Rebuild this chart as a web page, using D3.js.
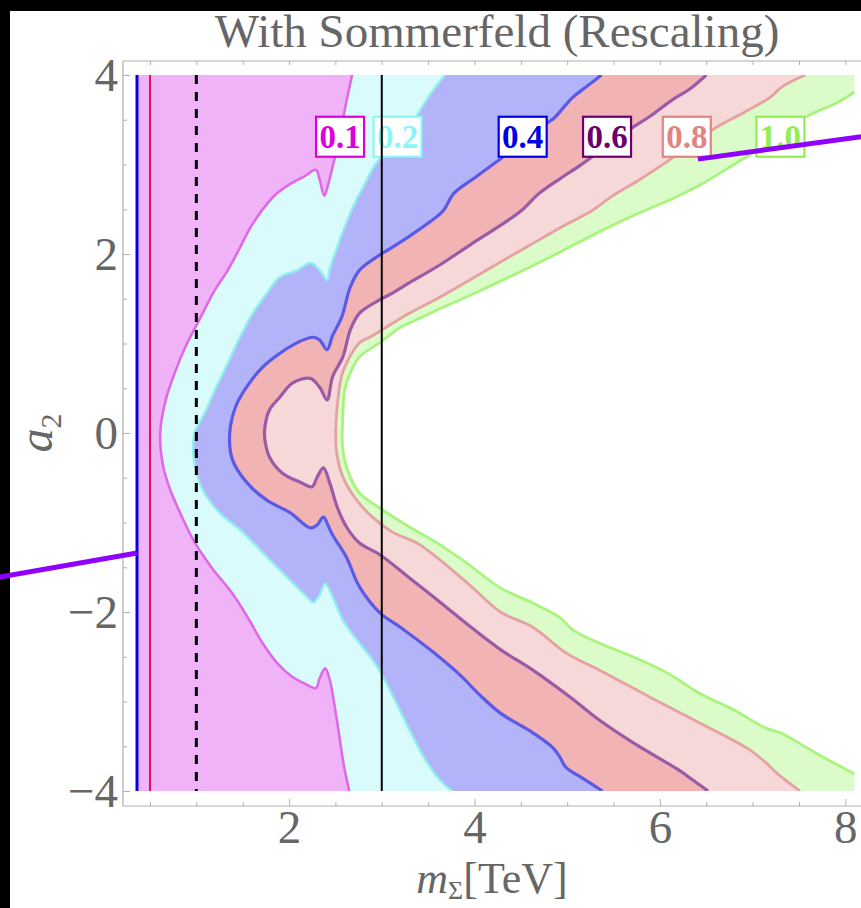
<!DOCTYPE html>
<html><head><meta charset="utf-8">
<script src="https://cdn.jsdelivr.net/npm/d3@7"></script>
<style>html,body{margin:0;padding:0;background:#fff;} svg{display:block;}</style>
</head><body>
<svg id="chart" width="861" height="908"></svg>
<script>
// Plot ranges (TeV, dimensionless coupling)
const massRange = [0.36, 8.1];
const a2Range = [-4, 4];

// Contour levels of the ratio shown in the plot
const levels = ["0.1", "0.2", "0.4", "0.6", "0.8", "1.0"];

// Contour curves [m_Sigma (TeV), a2], traced from a2 = 4 down to a2 = -4
const contour01 = [[2.68,4.00],[2.61,3.66],[2.54,3.27],[2.48,3.02],[2.42,2.77],[2.38,2.65],[2.33,2.83],[2.29,2.94],[2.17,2.87],[2.01,2.78],[1.85,2.66],[1.71,2.49],[1.58,2.29],[1.47,2.07],[1.34,1.82],[1.19,1.58],[1.04,1.28],[0.89,0.98],[0.77,0.68],[0.67,0.37],[0.61,0],[0.64,-0.36],[0.72,-0.64],[0.82,-0.88],[0.97,-1.20],[1.17,-1.51],[1.38,-1.78],[1.56,-2.07],[1.71,-2.34],[1.88,-2.58],[2.03,-2.72],[2.17,-2.80],[2.29,-2.85],[2.33,-2.74],[2.39,-2.63],[2.44,-2.76],[2.49,-3.04],[2.54,-3.37],[2.59,-3.71],[2.65,-4.00]];
const contour02 = [[3.68,4.00],[3.52,3.78],[3.36,3.52],[3.20,3.30],[3.07,3.15],[2.95,3.03],[2.80,2.75],[2.69,2.53],[2.58,2.25],[2.49,1.99],[2.44,1.84],[2.41,1.71],[2.33,1.82],[2.23,1.90],[2.09,1.82],[1.90,1.74],[1.76,1.56],[1.61,1.34],[1.47,1.07],[1.33,0.76],[1.20,0.48],[1.09,0.22],[0.98,0],[0.98,-0.34],[1.07,-0.64],[1.25,-0.89],[1.47,-1.08],[1.72,-1.34],[1.98,-1.61],[2.19,-1.83],[2.26,-1.89],[2.33,-1.81],[2.39,-1.68],[2.47,-1.83],[2.58,-2.09],[2.76,-2.35],[2.95,-2.61],[3.14,-2.98],[3.30,-3.32],[3.47,-3.65],[3.63,-3.88],[3.76,-4.00]];
const contour04 = [[5.37,4.00],[5.22,3.88],[5.06,3.75],[4.98,3.66],[4.86,3.52],[4.78,3.46],[4.51,3.24],[4.25,3.04],[4.00,2.85],[3.78,2.68],[3.66,2.48],[3.52,2.36],[3.30,2.20],[3.09,2.06],[2.98,1.99],[2.76,1.82],[2.66,1.63],[2.57,1.30],[2.47,1.09],[2.41,0.93],[2.33,1.04],[2.26,1.07],[2.09,1.01],[1.90,0.89],[1.71,0.73],[1.56,0.54],[1.43,0.31],[1.36,0],[1.39,-0.30],[1.55,-0.56],[1.76,-0.75],[2.01,-0.89],[2.23,-1.06],[2.30,-1.03],[2.37,-0.94],[2.42,-1.03],[2.47,-1.14],[2.62,-1.39],[2.76,-1.72],[2.98,-2.01],[3.20,-2.17],[3.52,-2.42],[3.84,-2.70],[4.06,-2.93],[4.28,-3.13],[4.63,-3.35],[4.85,-3.52],[4.92,-3.62],[4.99,-3.74],[5.14,-3.84],[5.38,-4.00]];
const contour06 = [[6.50,4.00],[6.33,3.85],[6.13,3.72],[5.91,3.55],[5.70,3.41],[5.42,3.20],[5.14,2.99],[4.92,2.84],[4.70,2.68],[4.50,2.48],[4.28,2.32],[3.95,2.10],[3.63,1.88],[3.30,1.68],[3.09,1.55],[2.98,1.49],[2.76,1.34],[2.66,1.15],[2.58,0.85],[2.47,0.63],[2.41,0.37],[2.33,0.51],[2.23,0.61],[2.04,0.56],[1.90,0.40],[1.79,0.26],[1.74,0.07],[1.74,-0.08],[1.79,-0.27],[1.93,-0.45],[2.12,-0.55],[2.25,-0.60],[2.30,-0.50],[2.37,-0.39],[2.44,-0.56],[2.52,-0.83],[2.62,-1.05],[2.76,-1.23],[2.98,-1.36],[3.30,-1.62],[3.63,-1.89],[3.95,-2.16],[4.28,-2.42],[4.63,-2.65],[5.03,-2.95],[5.35,-3.21],[5.71,-3.46],[6.21,-3.77],[6.36,-3.88],[6.52,-4.00]];
const contour08 = [[7.57,4.00],[7.32,3.87],[7.19,3.75],[6.92,3.59],[6.57,3.39],[6.33,3.21],[6.06,3.02],[5.78,2.83],[5.49,2.65],[5.26,2.48],[4.92,2.29],[4.60,2.10],[4.28,1.91],[3.95,1.71],[3.63,1.52],[3.30,1.34],[3.03,1.17],[2.87,1.07],[2.76,1.01],[2.66,0.86],[2.57,0.65],[2.53,0.40],[2.51,0.18],[2.51,-0.19],[2.58,-0.49],[2.73,-0.75],[2.90,-0.94],[3.12,-1.11],[3.38,-1.23],[3.63,-1.42],[3.95,-1.70],[4.28,-2.00],[4.63,-2.17],[4.99,-2.46],[5.35,-2.65],[5.89,-2.95],[6.43,-3.24],[6.97,-3.54],[7.15,-3.69],[7.26,-3.80],[7.51,-4.00]];
const contour10 = [[8.10,3.81],[7.91,3.69],[7.57,3.53],[7.19,3.25],[6.83,3.02],[6.43,2.77],[6.10,2.60],[5.78,2.46],[5.35,2.25],[4.92,2.02],[4.49,1.80],[4.06,1.59],[3.63,1.39],[3.30,1.23],[3.20,1.18],[2.98,1.01],[2.76,0.85],[2.66,0.67],[2.60,0.48],[2.58,0.18],[2.58,-0.19],[2.66,-0.49],[2.76,-0.67],[3.01,-0.86],[3.30,-1.05],[3.60,-1.23],[3.90,-1.44],[4.28,-1.73],[4.63,-1.90],[4.92,-2.06],[5.06,-2.20],[5.35,-2.35],[5.71,-2.50],[6.08,-2.68],[6.43,-2.91],[6.79,-3.09],[7.15,-3.30],[7.30,-3.35],[7.69,-3.58],[8.10,-3.81]];
const contours = [contour01, contour02, contour04, contour06, contour08, contour10];

// Contour label positions (m_Sigma) along a2 = 3.31
const labelMass = [2.55, 3.17, 4.52, 5.43, 6.29, 7.30];
const labelA2 = 3.31;

// Vertical reference masses (TeV)
const refMass = [0.36, 0.5, 1.0, 3.0];

// Tick labels
const xTickLabels = [2, 4, 6, 8];
const yTickLabels = [-4, -2, 0, 2, 4];

// Pointer segments [m_Sigma, a2]
const pointerLeft = [[-1.12, -1.61], [0.36, -1.34]];
const pointerRight = [[6.41, 3.06], [8.17, 3.31]];

// ---- styling ----
const fillColor = {"0.1":"#f1b3f8","0.2":"#d9fbfb","0.4":"#b3b3f9","0.6":"#f2b3b4","0.8":"#f6d8d9","1.0":"#dbfbc9"};
const lineColor = {"0.1":"#dc6ae9","0.2":"#8feeee","0.4":"#5a5ae4","0.6":"#9a5aa6","0.8":"#e4a2a2","1.0":"#a9f47e"};
const lineWidth = {"0.1":2.6,"0.2":2.4,"0.4":3.2,"0.6":3.2,"0.8":2.8,"1.0":2.8};
const labelColor = {"0.1":"#dd00dd","0.2":"#8cf6f6","0.4":"#0000e6","0.6":"#6a006e","0.8":"#e08484","1.0":"#92ee50"};
const refStyle = [
  {color:"#0000e0", width:3, dash:null},
  {color:"#e0105a", width:2, dash:null},
  {color:"#000", width:3, dash:"9,8"},
  {color:"#000", width:2, dash:null}
];
const serif = "'Liberation Serif','Times New Roman',serif";
const gray = "#666";

const svg = d3.select("#chart");
const W = 861, H = 908;
const frame = {left:123, top:61, right:868, bottom:806};

const x = d3.scaleLinear().domain(massRange).range([137, 854.6]);
const y = d3.scaleLinear().domain(a2Range).range([791, 75]);

svg.append("rect").attr("width", W).attr("height", H).attr("fill", "#fff");
// dark border strips
svg.append("rect").attr("x",0).attr("y",0).attr("width",W).attr("height",11).attr("fill","#000");
svg.append("rect").attr("x",0).attr("y",0).attr("width",10).attr("height",H).attr("fill","#000");

// title
svg.append("text").attr("x", 497).attr("y", 47).attr("text-anchor","middle")
  .attr("font-family", serif).attr("font-size", 47).attr("fill", gray)
  .text("With Sommerfeld (Rescaling)");

// clip to the data region
svg.append("clipPath").attr("id","plotClip").append("rect")
  .attr("x", x(massRange[0])).attr("y", y(a2Range[1]))
  .attr("width", x(massRange[1]) - x(massRange[0]))
  .attr("height", y(a2Range[0]) - y(a2Range[1]));

const plot = svg.append("g").attr("clip-path","url(#plotClip)");
const curve = d3.line().x(d => x(d[0])).y(d => y(d[1])).curve(d3.curveCatmullRom.alpha(0.5));

// filled bands: region left of each contour, painted from the outermost level inwards
const x0 = massRange[0], x1 = massRange[1];
for (let i = levels.length - 1; i >= 0; i--) {
  const c = contours[i];
  const body = curve(c).replace(/^M/, "L");
  let d = `M${x(x0)},${y(a2Range[1])}`;
  if (c[0][1] < a2Range[1]) d += `L${x(x1)},${y(a2Range[1])}`;
  d += body;
  const last = c[c.length - 1];
  if (last[1] > a2Range[0]) d += `L${x(x1)},${y(a2Range[0])}`;
  d += `L${x(x0)},${y(a2Range[0])}Z`;
  plot.append("path").attr("d", d).attr("fill", fillColor[levels[i]]);
}
// contour lines
levels.forEach((lv, i) => {
  plot.append("path").attr("d", curve(contours[i])).attr("fill","none")
    .attr("stroke", lineColor[lv]).attr("stroke-width", lineWidth[lv])
    .attr("stroke-linejoin","round");
});

// contour labels
const labels = svg.append("g");
levels.forEach((lv, i) => {
  const cx = x(labelMass[i]), cy = y(labelA2);
  labels.append("rect").attr("x", cx - 24).attr("y", cy - 20).attr("width", 48).attr("height", 40)
    .attr("fill","#fff").attr("stroke", labelColor[lv]).attr("stroke-width", 2.2);
  labels.append("text").attr("x", cx).attr("y", cy + 11).attr("text-anchor","middle")
    .attr("font-family", serif).attr("font-weight","bold").attr("font-size", 33)
    .attr("fill", labelColor[lv]).text(lv);
});

// vertical reference lines
refMass.forEach((m, i) => {
  const s = refStyle[i];
  svg.append("line").attr("x1", x(m)).attr("x2", x(m)).attr("y1", y(a2Range[1])).attr("y2", y(a2Range[0]))
    .attr("stroke", s.color).attr("stroke-width", s.width).attr("stroke-dasharray", s.dash);
});

// frame
svg.append("path").attr("d",
  `M${frame.right},${frame.top}H${frame.left}V${frame.bottom}H${frame.right}`)
  .attr("fill","none").attr("stroke","#b0b0b0").attr("stroke-width",1.2);

// ticks and tick labels
const minorX = d3.range(0.5, 8.01, 0.5).filter(v => !xTickLabels.includes(v));
const minorY = d3.range(-3.5, 3.51, 0.5).filter(v => !yTickLabels.includes(v));
const styleAxis = g => {
  g.select(".domain").remove();
  g.selectAll("line").attr("stroke","#b0b0b0");
  g.selectAll("text").attr("font-family", serif).attr("font-size", 47).attr("fill", gray);
};
svg.append("g").attr("transform",`translate(0,${frame.bottom})`)
  .call(d3.axisBottom(x).tickValues(minorX).tickSizeInner(-4).tickFormat(""))
  .call(styleAxis);
svg.append("g").attr("transform",`translate(0,${frame.bottom})`)
  .call(d3.axisBottom(x).tickValues(xTickLabels).tickSizeInner(-7).tickPadding(4).tickFormat(d3.format("d")))
  .call(styleAxis);
svg.append("g").attr("transform",`translate(0,${frame.top})`)
  .call(d3.axisTop(x).tickValues(minorX.concat(xTickLabels)).tickSizeInner(-4).tickFormat(""))
  .call(styleAxis);
svg.append("g").attr("transform",`translate(${frame.left},0)`)
  .call(d3.axisLeft(y).tickValues(minorY).tickSizeInner(-4).tickFormat(""))
  .call(styleAxis);
svg.append("g").attr("transform",`translate(${frame.left},0)`)
  .call(d3.axisLeft(y).tickValues(yTickLabels).tickSizeInner(-7).tickPadding(5).tickFormat(d3.format("d")))
  .call(styleAxis);

// axis titles
const xt = svg.append("text").attr("x", 492).attr("y", 893).attr("text-anchor","middle")
  .attr("font-family", serif).attr("font-size", 44).attr("fill", gray);
xt.append("tspan").attr("font-style","italic").text("m");
xt.append("tspan").attr("font-size", 26).attr("dy", 6).text("Σ");
xt.append("tspan").attr("dy", -6).text("[TeV]");

const yt = svg.append("text").attr("transform","translate(52,433) rotate(-90)").attr("text-anchor","middle")
  .attr("font-family", serif).attr("font-size", 48).attr("fill", gray);
yt.append("tspan").attr("font-style","italic").text("a");
yt.append("tspan").attr("font-size", 30).attr("dy", 9).text("2");

// pointer segments
[pointerLeft, pointerRight].forEach(seg => {
  svg.append("line").attr("x1", x(seg[0][0])).attr("y1", y(seg[0][1]))
    .attr("x2", x(seg[1][0])).attr("y2", y(seg[1][1]))
    .attr("stroke","#9000ff").attr("stroke-width",5);
});
</script>
</body></html>
